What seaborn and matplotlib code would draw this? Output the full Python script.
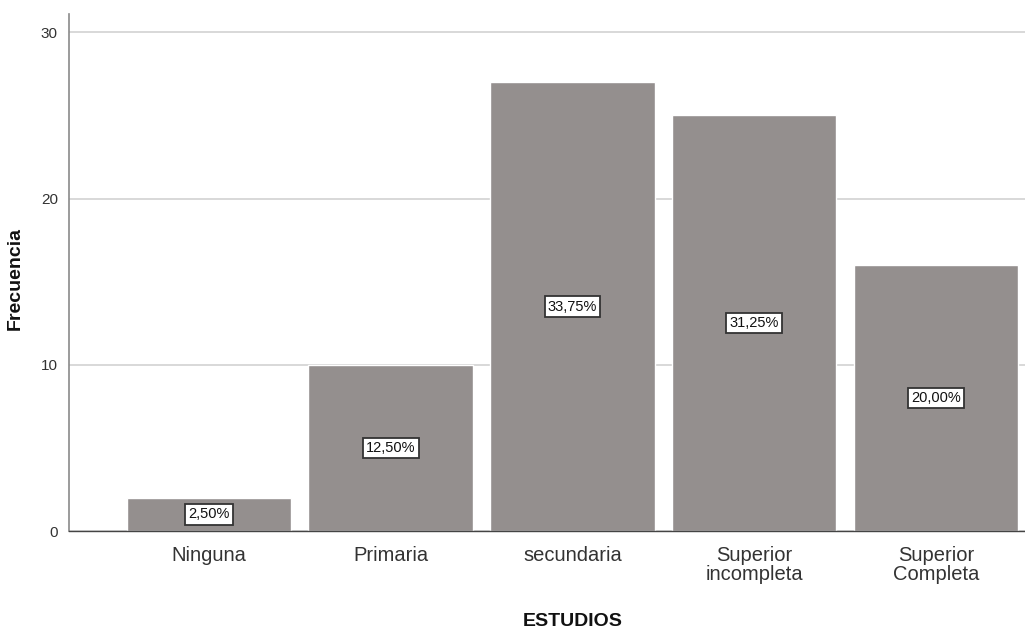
import matplotlib
matplotlib.use("Agg")
import matplotlib.pyplot as plt
import seaborn as sns
import pandas as pd

categorias = ["Ninguna", "Primaria", "secundaria", "Superior\nincompleta", "Superior\nCompleta"]
frecuencias = [2, 10, 27, 25, 16]
porcentajes = ["2,50%", "12,50%", "33,75%", "31,25%", "20,00%"]
yticks = [0, 10, 20, 30]

sns.set_theme(style="white")
plt.rcParams["font.family"] = ["Liberation Sans", "DejaVu Sans"]

df = pd.DataFrame({"ESTUDIOS": categorias, "Frecuencia": frecuencias})

fig = plt.figure(figsize=(10.25, 6.29), dpi=100)
ax = fig.add_axes([0.0673, 0.1558, 0.9327, 0.822])

sns.barplot(data=df, x="ESTUDIOS", y="Frecuencia", color="#948f8e",
            saturation=1, width=0.905, ax=ax, zorder=2)

ax.set_xlim(-0.77, 4.49)
ax.set_ylim(0, 31.1)
ax.set_yticks(yticks)
ax.yaxis.grid(True, color="#d2d2d2", linewidth=1.2, zorder=0)
ax.set_axisbelow(True)

for sp in ["top", "right"]:
    ax.spines[sp].set_visible(False)
ax.spines["left"].set_color("#8a8a8a")
ax.spines["left"].set_linewidth(1.2)
ax.spines["bottom"].set_color("#444444")
ax.spines["bottom"].set_linewidth(1.0)

ax.tick_params(axis="y", length=5, width=1, color="#8a8a8a", labelsize=11, labelcolor="#333333", pad=3)
ax.tick_params(axis="x", length=0, labelsize=14.5, labelcolor="#333333", pad=10.5)
for lbl in ax.get_xticklabels():
    lbl.set_linespacing(1.05)

ax.set_xlabel("ESTUDIOS", fontsize=14, fontweight="bold", color="#111111")
ax.set_ylabel("Frecuencia", fontsize=14, fontweight="bold", color="#111111")
# axis titles centred on the span of the bars / data range
ax.xaxis.set_label_coords(0.527, -0.158)
ax.yaxis.set_label_coords(-0.047, 0.489)

for i, (v, p) in enumerate(zip(frecuencias, porcentajes)):
    ax.text(i, v / 2, p, ha="center", va="center", fontsize=10.5, color="#111111", zorder=4,
            bbox=dict(boxstyle="square,pad=0.22", facecolor="white", edgecolor="#333333", linewidth=1.3))

fig.savefig("out.png", dpi=100)
